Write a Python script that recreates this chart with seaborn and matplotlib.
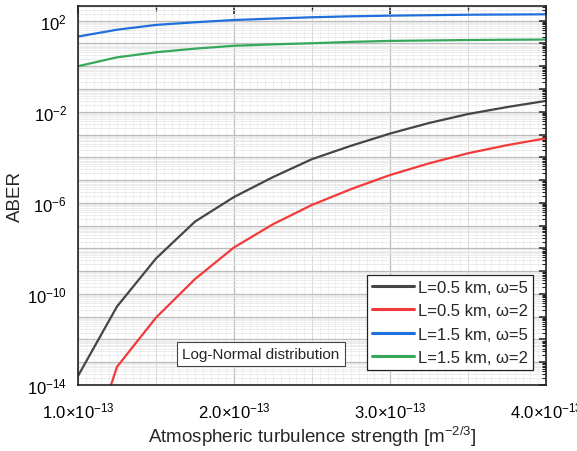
import numpy as np
import pandas as pd
import matplotlib
matplotlib.use("Agg")
import matplotlib.pyplot as plt
import matplotlib.ticker as mticker
import seaborn as sns

# ---- data ----
cn2 = [1.0e-13, 1.25e-13, 1.5e-13, 1.75e-13, 2.0e-13, 2.25e-13, 2.5e-13,
       2.75e-13, 3.0e-13, 3.25e-13, 3.5e-13, 3.75e-13, 4.0e-13]
series_names = ["L=0.5 km, \u03c9=5", "L=0.5 km, \u03c9=2",
                "L=1.5 km, \u03c9=5", "L=1.5 km, \u03c9=2"]
aber_05_w5 = [2.5e-14, 2.8e-11, 3.6e-9, 1.5e-7, 1.8e-6, 1.35e-5, 8.3e-5,
              3.2e-4, 1.1e-3, 3.2e-3, 7.9e-3, 1.6e-2, 3.0e-2]
aber_05_w2 = [4.0e-19, 6.3e-14, 9.1e-12, 4.5e-10, 1.1e-8, 1.15e-7, 8.1e-7,
              4.0e-6, 1.66e-5, 5.4e-5, 1.5e-4, 3.4e-4, 6.8e-4]
aber_15_w5 = [20, 40, 65, 85, 107, 123, 141, 155, 166, 174, 182, 186, 190]
aber_15_w2 = [1.0, 2.45, 4.1, 5.9, 7.9, 9.1, 10.2, 11.7, 12.9, 13.5, 14.1,
              14.5, 14.8]
colors = ["#454545", "#f23a3a", "#1f6fdc", "#35a85a"]
xtick_vals = [1.0e-13, 2.0e-13, 3.0e-13, 4.0e-13]
xtick_labels = [r"1.0$\times$10$^{-13}$", r"2.0$\times$10$^{-13}$",
                r"3.0$\times$10$^{-13}$", r"4.0$\times$10$^{-13}$"]
ytick_labeled = [2, -2, -6, -10, -14]

df = pd.DataFrame({
    "Cn2": cn2 * 4,
    "ABER": aber_05_w5 + aber_05_w2 + aber_15_w5 + aber_15_w2,
    "series": sum([[n] * len(cn2) for n in series_names], []),
})

sns.set_theme(style="white")
plt.rcParams["font.family"] = ["Liberation Sans", "DejaVu Sans"]
plt.rcParams["mathtext.fontset"] = "custom"
plt.rcParams["mathtext.rm"] = "Liberation Sans"
plt.rcParams["mathtext.it"] = "Liberation Sans:italic"
plt.rcParams["mathtext.bf"] = "Liberation Sans:bold"

fig = plt.figure(figsize=(5.77, 4.52), dpi=100)
ax = fig.add_axes([0.1352, 0.146, 0.811, 0.838])

sns.lineplot(data=df, x="Cn2", y="ABER", hue="series",
             hue_order=series_names, palette=colors, linewidth=1.6,
             ax=ax, legend=True)

ax.set_yscale("log")
ax.set_xlim(1.0e-13, 4.0e-13)
ax.set_ylim(1e-14, 4.3e2)

# grids: fine light minor grid + gray major grid
fine_x = np.arange(1.0e-13, 4.0001e-13, 0.05e-13)
ax.vlines(fine_x, 1e-14, 4.3e2, colors="#ececec", linewidth=0.5, zorder=0)
ax.yaxis.set_major_locator(mticker.LogLocator(base=10, numticks=30))
ax.yaxis.set_minor_locator(mticker.LogLocator(base=10, subs=np.arange(2, 10), numticks=30))
ax.yaxis.set_minor_formatter(mticker.NullFormatter())
ax.yaxis.set_major_formatter(mticker.FuncFormatter(
    lambda v, p: (r"10$^{%d}$" % int(round(np.log10(v))))
    if int(round(np.log10(v))) in ytick_labeled else ""))
ax.set_xticks(xtick_vals)
ax.set_xticklabels(xtick_labels)
ax.xaxis.set_minor_locator(mticker.MultipleLocator(0.5e-13))

ax.grid(True, which="major", axis="both", color="#bcbcbc", linewidth=0.9, zorder=0)
ax.grid(True, which="minor", axis="y", color="#e4e4e4", linewidth=0.5, zorder=0)
ax.grid(True, which="minor", axis="x", color="#d8d8d8", linewidth=0.7, zorder=0)
ax.set_axisbelow(True)

for s in ax.spines.values():
    s.set_color("#222222")
    s.set_linewidth(1.2)

ax.tick_params(axis="both", which="both", colors="#222222", labelcolor="black",
               labelsize=12)
ax.tick_params(axis="x", which="major", direction="out", length=6, width=1.1,
               top=True, pad=5)
ax.tick_params(axis="x", which="minor", direction="out", length=3.5, width=1.0,
               top=True)
ax.tick_params(axis="y", which="major", direction="out", length=5, width=1.1,
               right=True, pad=3)
ax.tick_params(axis="y", which="minor", direction="out", length=3, width=0.8,
               right=True)
# inward ticks on top and right sides
for t in ax.xaxis.get_major_ticks() + ax.xaxis.get_minor_ticks():
    t.tick2line.set_marker(matplotlib.lines.TICKDOWN)
for t in ax.yaxis.get_major_ticks() + ax.yaxis.get_minor_ticks():
    t.tick2line.set_marker(matplotlib.lines.TICKLEFT)

ax.set_xlabel(r"Atmospheric turbulence strength [m$^{-2/3}$]", fontsize=13.5,
              labelpad=3)
ax.set_ylabel("ABER", fontsize=13.5, labelpad=2)

leg = ax.legend(loc="lower right", bbox_to_anchor=(0.972, 0.040),
                borderaxespad=0, fontsize=12, frameon=True, fancybox=False,
                handlelength=2.5, handletextpad=0.25, labelspacing=0.5,
                borderpad=0.3, title=None)
leg.get_frame().set_edgecolor("#222222")
leg.get_frame().set_linewidth(0.9)
leg.get_frame().set_alpha(1)
for h in leg.get_lines():
    h.set_linewidth(2.2)

ax.text(0.391, 0.082, "Log-Normal distribution", transform=ax.transAxes,
        ha="center", va="center", fontsize=11,
        bbox=dict(boxstyle="square,pad=0.35", facecolor="white",
                  edgecolor="#444444", linewidth=0.8))

fig.savefig("out.png", dpi=100)
